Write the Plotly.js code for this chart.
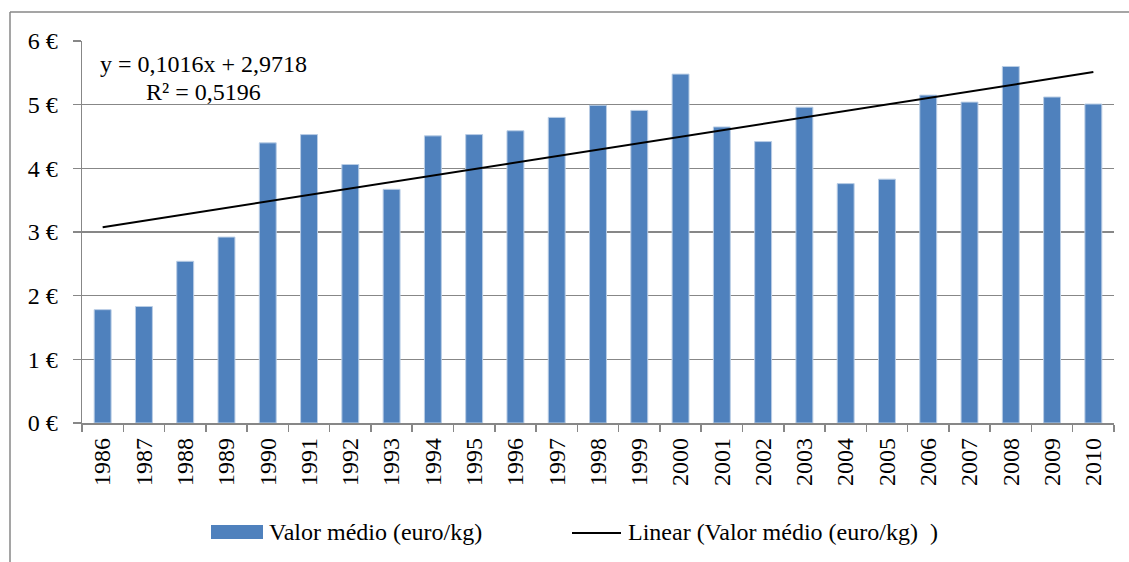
<!DOCTYPE html>
<html>
<head>
<meta charset="utf-8">
<script src="https://cdn.plot.ly/plotly-3.0.1.min.js"></script>
<style>
  html, body { margin: 0; padding: 0; background: #ffffff; }
  #chart { width: 1129px; height: 562px; }
</style>
</head>
<body>
<div id="chart"></div>
<script>
// ---- data ----
const years = ["1986","1987","1988","1989","1990","1991","1992","1993","1994","1995",
               "1996","1997","1998","1999","2000","2001","2002","2003","2004","2005",
               "2006","2007","2008","2009","2010"];
const valorMedio = [1.78, 1.83, 2.54, 2.92, 4.40, 4.53, 4.06, 3.67, 4.51, 4.53,
                    4.59, 4.80, 4.99, 4.91, 5.48, 4.65, 4.42, 4.96, 3.76, 3.83,
                    5.15, 5.04, 5.60, 5.12, 5.01];
const trendSlope = 0.1016;
const trendIntercept = 2.9718;
const trendR2 = 0.5196;
const yTicks = [0, 1, 2, 3, 4, 5, 6];
const yTickLabels = ["0 €", "1 €", "2 €", "3 €", "4 €", "5 €", "6 €"];
const seriesName = "Valor médio (euro/kg)";
const trendName = "Linear (Valor médio (euro/kg)\u00a0\u00a0)";
const equationText = "y = 0,1016x + 2,9718";
const r2Text = "R² = 0,5196";

// trendline endpoints (Excel index x = 1 .. n)
const n = years.length;
const trendX = [years[0], years[n - 1]];
const trendY = [trendSlope * 1 + trendIntercept, trendSlope * n + trendIntercept];

// ---- layout helpers (pixel -> paper) ----
const W = 1129, H = 562;
const M = { l: 82, r: 15, t: 41, b: 139 };
const PW = W - M.l - M.r, PH = H - M.t - M.b;
const px = x => (x - M.l) / PW;
const py = y => (H - M.b - y) / PH;

const FONT = 'Liberation Serif, Times New Roman, serif';
const GRID = '#878787';
const TXT = { family: FONT, size: 24, color: '#000000' };

const traces = [
  {
    type: 'bar',
    x: years,
    y: valorMedio,
    name: seriesName,
    marker: { color: '#4F81BD', line: { color: '#B9CDE5', width: 1 } },
    hoverinfo: 'x+y'
  },
  {
    type: 'scatter',
    mode: 'lines',
    x: trendX,
    y: trendY,
    name: trendName,
    line: { color: '#000000', width: 2 },
    hoverinfo: 'skip'
  }
];

const layout = {
  width: W,
  height: H,
  margin: M,
  paper_bgcolor: '#ffffff',
  plot_bgcolor: '#ffffff',
  showlegend: false,
  bargap: 0.59,
  font: TXT,
  xaxis: {
    type: 'category',
    tickangle: -90,
    tickson: 'boundaries',
    ticks: 'outside',
    ticklen: 7,
    tickwidth: 1.5,
    tickcolor: GRID,
    showline: true,
    linecolor: GRID,
    linewidth: 1.5,
    showgrid: false,
    tickfont: TXT,
    ticklabelstandoff: 4
  },
  yaxis: {
    range: [0, 6],
    tickmode: 'array',
    tickvals: yTicks,
    ticktext: yTickLabels,
    ticks: 'outside',
    ticklen: 8,
    tickwidth: 1.5,
    tickcolor: GRID,
    showline: true,
    linecolor: GRID,
    linewidth: 1.5,
    showgrid: true,
    gridcolor: GRID,
    gridwidth: 1.5,
    zeroline: false,
    tickfont: TXT,
    ticklabelstandoff: 10
  },
  shapes: [
    // outer chart border (top and left visible)
    { type: 'line', xref: 'paper', yref: 'paper', x0: px(10), x1: px(1140), y0: py(12), y1: py(12),
      line: { color: GRID, width: 1.5 } },
    { type: 'line', xref: 'paper', yref: 'paper', x0: px(10), x1: px(10), y0: py(12), y1: py(575),
      line: { color: GRID, width: 1.5 } },
    // legend symbols
    { type: 'rect', xref: 'paper', yref: 'paper', x0: px(211), x1: px(263), y0: py(539), y1: py(525),
      fillcolor: '#4F81BD', line: { width: 0 } },
    { type: 'line', xref: 'paper', yref: 'paper', x0: px(572), x1: px(621), y0: py(533), y1: py(533),
      line: { color: '#000000', width: 2 } }
  ],
  annotations: [
    { xref: 'paper', yref: 'paper', x: px(203), y: py(64), xanchor: 'center', yanchor: 'middle',
      text: equationText, showarrow: false, font: TXT },
    { xref: 'paper', yref: 'paper', x: px(203), y: py(92), xanchor: 'center', yanchor: 'middle',
      text: r2Text, showarrow: false, font: TXT },
    { xref: 'paper', yref: 'paper', x: px(267), y: py(532), xanchor: 'left', yanchor: 'middle',
      text: seriesName, showarrow: false, font: TXT },
    { xref: 'paper', yref: 'paper', x: px(626), y: py(532), xanchor: 'left', yanchor: 'middle',
      text: trendName, showarrow: false, font: TXT }
  ]
};

Plotly.newPlot('chart', traces, layout, { displayModeBar: false, staticPlot: true });
</script>
</body>
</html>
